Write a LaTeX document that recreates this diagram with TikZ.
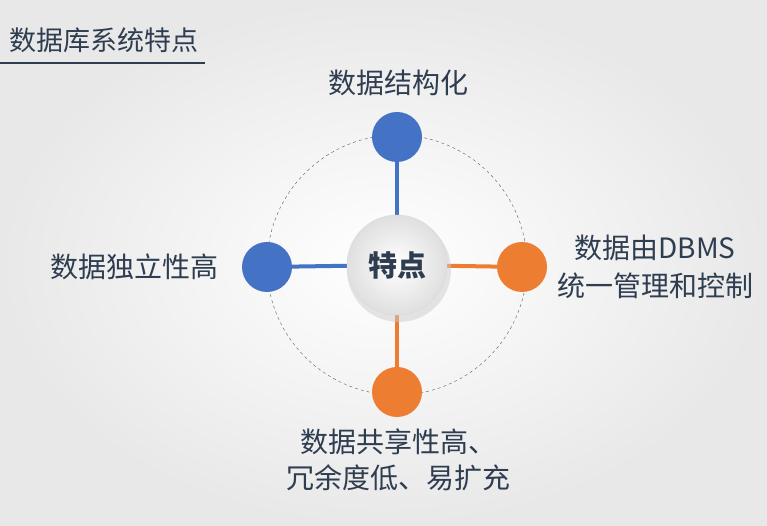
\documentclass[tikz,border=0pt]{standalone}
\usepackage{fontspec}
\newfontfamily\cjk{Noto Sans CJK SC}
\definecolor{bl}{HTML}{4472C4}
\definecolor{og}{HTML}{ED7D31}
\definecolor{tx}{HTML}{2E3D4F}
\begin{document}
\begin{tikzpicture}[x=1pt,y=1pt,
  dot/.style={circle,minimum size=50pt,inner sep=0pt},
  lbl/.style={font=\cjk\fontsize{28}{36}\selectfont,text=tx,align=center},
  spoke/.style={line width=4pt}]
\shade[inner color=white,outer color=gray!18] (0,0) rectangle (767,526);
\useasboundingbox (0,0) rectangle (767,526);
\node[lbl,font=\cjk\fontsize{27}{30}\selectfont,anchor=west] (title) at (6,486) {数据库系统特点};
\coordinate (u1) at (0,463); \coordinate (u2) at (205,463);
\draw[tx,line width=1.5pt] (u1) -- (u2);
\coordinate (c) at (397,261);
\draw[dashed,gray!70!black] (c) circle (130);
\node[dot,fill=bl] (t) at (397,389) {};
\node[dot,fill=bl] (l) at (267,259) {};
\node[dot,fill=og] (r) at (522,259) {};
\node[dot,fill=og] (b) at (397,134) {};
\node[circle,minimum size=100pt,inner sep=0pt] (m) at (c) {};
\draw[spoke,bl] (m) -- (t);
\draw[spoke,bl] (m) -- (l);
\draw[spoke,og] (m) -- (r);
\draw[spoke,og] (m) -- (b);
\fill[gray!40,opacity=0.5] (399,256) circle (52);
\shade[inner color=white,outer color=gray!25,draw=gray!30] (c) circle (50);
\node[lbl,font=\cjk\bfseries\fontsize{29}{32}\selectfont] (mt) at (c) {特点};
\node[lbl] (tl) at (398,443) {数据结构化};
\node[lbl] (ll) at (134,259) {数据独立性高};
\node[lbl,font=\cjk\fontsize{28}{38}\selectfont] (rl) at (655,259) {数据由DBMS\\统一管理和控制};
\node[lbl] (bl2) at (398,66) {数据共享性高、\\冗余度低、易扩充};
\end{tikzpicture}
\end{document}
